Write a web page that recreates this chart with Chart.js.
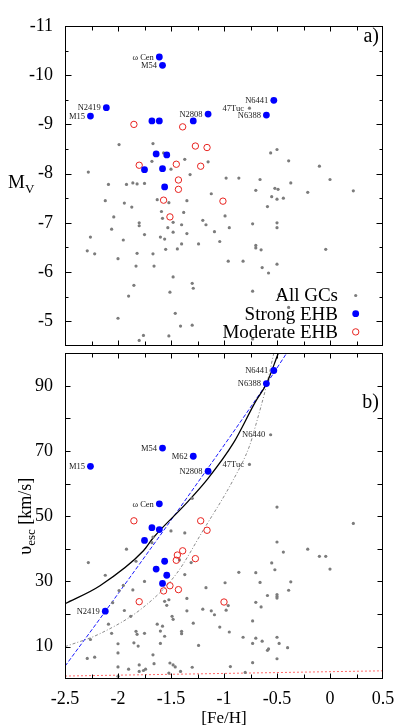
<!DOCTYPE html>
<html><head><meta charset="utf-8">
<script src="https://cdn.jsdelivr.net/npm/chart.js@4.4.1/dist/chart.umd.min.js"></script>
<style>
html,body{margin:0;padding:0;background:#fff;}
#wrap{position:relative;width:415px;height:727px;overflow:hidden;background:#fff;}
#c1{position:absolute;left:0;top:0;}
#c2{position:absolute;left:0;top:349px;}
</style></head><body>
<div id="wrap"><canvas id="c1" width="415" height="350"></canvas><canvas id="c2" width="415" height="378"></canvas></div>
<script>
// ---------- axis ticks ----------
const fehTicks  = [-2.5,-2.25,-2,-1.75,-1.5,-1.25,-1,-0.75,-0.5,-0.25,0,0.25,0.5];
const fehLabels = [-2.5,-2,-1.5,-1,-0.5,0,0.5];
const mvTicks   = [-11,-10.5,-10,-9.5,-9,-8.5,-8,-7.5,-7,-6.5,-6,-5.5,-5,-4.5];
const mvLabels  = [-11,-10,-9,-8,-7,-6,-5];
const vescTicks = [0,10,20,30,40,50,60,70,80,90,100];
const vescLabels= [10,30,50,70,90];

// ---------- panel a) : M_V vs [Fe/H] ----------
const strongFehA  = [-1.61,-1.58,-2.11,-2.26,-1.68,-1.61,-1.29,-1.15,-0.53,-0.60,-1.64,-1.54,-1.75,-1.58,-1.56];
const strongMv    = [-10.37,-10.20,-9.34,-9.17,-9.07,-9.07,-9.07,-9.21,-9.49,-9.19,-8.40,-8.38,-8.08,-8.10,-7.73];
const strongNamesA= ['ω Cen','M54','N2419','M15','','','','N2808','N6441','N6388','','','','',''];

const modFehA = [-1.85,-1.39,-1.27,-1.16,-1.80,-1.45,-1.22,-1.43,-1.43,-1.57,-1.01,-1.51];
const modMv   = [-9.00,-8.95,-8.56,-8.53,-8.17,-8.19,-8.15,-7.87,-7.68,-7.46,-7.44,-7.12];

const allFehA = [-0.76,
 -1.99,-1.67,-1.57,-1.68,-1.37,-1.15,-2.28,-1.50,-1.32,-2.09,-1.92,-1.86,-1.82,-1.75,-1.12,-2.12,-1.94,-1.87,-1.63,-1.52,
 -1.35,-2.04,-1.59,-1.58,-1.38,-1.80,-1.80,-2.06,-1.48,-1.53,-1.40,-1.20,-1.17,-1.09,-1.75,-1.48,-1.35,-2.26,-1.95,-1.60,
 -1.56,-1.40,-1.24,-1.04,-2.29,-2.22,-1.82,-1.67,-1.55,-1.44,-2.00,-1.83,-1.66,-1.48,-1.85,-1.30,-1.29,-1.51,-1.90,-2.00,
 -1.46,-1.41,-1.30,-1.76,-1.80,-1.52,
 -0.56,-0.50,-0.39,-0.10,-0.98,-0.86,-0.66,0.00,-0.70,-0.52,-0.49,-0.37,-0.21,0.22,-0.55,-0.50,-0.44,-0.59,-0.99,-0.95,
 -0.73,-0.50,-0.50,-0.70,-0.70,-0.65,-0.04,-0.96,-0.82,-0.64,-0.58,-0.50,-0.73,-0.48,-0.39,-0.73];
const allMv = [-9.33,
 -8.59,-8.61,-8.42,-8.25,-8.29,-8.24,-8.03,-8.09,-7.98,-7.78,-7.78,-7.81,-7.79,-7.80,-7.59,-7.45,-7.40,-7.32,-7.47,-7.41,
 -7.45,-7.12,-7.23,-7.09,-7.21,-7.00,-6.94,-6.87,-7.01,-6.90,-6.96,-7.05,-6.96,-6.82,-6.76,-6.81,-6.78,-6.71,-6.65,-6.71,
 -6.67,-6.57,-6.57,-6.62,-6.43,-6.37,-6.38,-6.37,-6.46,-6.47,-6.27,-6.12,-6.12,-5.90,-5.73,-5.77,-5.67,-5.59,-5.51,-5.06,
 -5.16,-4.90,-4.92,-4.71,-4.61,-4.70,
 -8.42,-8.49,-8.26,-8.15,-7.91,-7.91,-7.88,-7.88,-7.66,-7.70,-7.68,-7.81,-7.62,-7.65,-7.53,-7.48,-7.50,-7.33,-7.14,-6.90,
 -6.98,-7.00,-6.90,-6.54,-6.49,-6.45,-6.46,-6.22,-6.22,-6.09,-5.98,-6.16,-5.61,-5.54,-5.28,-4.64];
const allNamesA = ['47Tuc'];

// ---------- panel b) : v_esc vs [Fe/H] ----------
const strongFehB  = [-0.53,-0.60,-1.58,-1.29,-2.26,-1.15,-1.61,-1.68,-1.61,-1.75,-1.56,-1.64,-1.54,-1.58,-2.12];
const strongVesc  = [94.7,90.7,70.9,68.4,65.3,63.8,53.8,46.5,45.9,42.6,36.2,33.8,31.9,29.4,20.9];
const strongNamesB= ['N6441','N6388','M54','M62','M15','N2808','ω Cen','','','','','','','','N2419'];

const modFehB  = [-1.85,-1.22,-1.16,-1.39,-1.44,-1.45,-1.27,-1.57,-1.51,-1.43,-1.80,-1.00];
const modVesc  = [48.6,48.6,45.7,39.4,38.1,36.5,37.0,27.1,28.7,27.5,23.8,23.7];

const allFehB = [-0.56,-0.76,
 -2.28,-1.92,-2.12,-1.83,-1.67,-1.68,-1.50,-1.37,-1.30,-1.42,-1.31,-1.37,-1.17,-1.75,-1.99,-1.95,-1.86,-1.52,-1.56,-1.54,
 -1.35,-2.05,-1.94,-1.35,-1.20,-1.12,-1.09,-2.09,-1.88,-2.06,-1.63,-1.58,-1.49,-1.48,-1.40,-1.40,-1.29,-1.04,-2.26,-2.00,
 -1.83,-1.82,-1.75,-1.85,-1.81,-1.60,-1.56,-1.60,-1.24,-2.00,-2.29,-2.22,-1.67,-1.66,-1.51,-1.48,-1.46,-2.00,-1.90,-1.80,
 -1.80,-1.76,-1.74,-1.41,-1.30,-1.52,-2.00,
 -0.50,0.22,-0.50,-0.44,-0.21,-0.10,-0.04,0.00,-0.55,-0.52,-0.86,-0.70,-0.99,-0.66,-0.37,-0.39,-0.59,-0.50,-0.50,-0.50,
 -0.70,-0.65,-0.96,-0.98,-0.73,-0.95,-0.82,-0.70,-0.73,-0.64,-0.59,-0.58,-0.50,-0.48,-0.40,-0.50,-0.73,-0.94,-0.80];
const allVesc = [75.0,65.9,
 35.8,39.9,31.9,36.2,43.6,41.9,45.5,44.9,55.5,36.6,35.8,32.1,28.1,30.0,27.2,28.8,27.4,24.4,23.9,22.7,
 24.8,23.5,21.1,21.0,21.5,21.0,19.8,16.9,19.3,14.1,16.9,16.3,19.3,18.4,14.7,14.0,17.2,16.0,12.2,10.9,
 14.7,13.8,14.1,11.2,10.2,14.8,13.2,11.0,10.4,8.1,6.4,6.8,7.5,4.8,5.0,4.4,3.8,3.8,3.1,4.4,
 2.4,2.7,3.1,2.4,3.7,1.9,0.9,
 52.8,47.8,42.1,39.0,39.9,37.7,37.7,33.8,35.7,33.6,32.8,32.7,29.6,29.7,29.9,27.3,25.7,26.0,25.4,24.9,
 23.6,22.2,22.6,21.2,17.9,14.5,12.9,12.6,11.0,11.7,8.9,9.3,12.9,11.0,9.7,6.3,5.1,3.9,2.1];
const allNamesB = ['N6440','47Tuc'];

// curves read off panel b)
const blackCurveFeh  = [-2.5,-2.17,-1.76,-1.667,-1.352,-1.148,-0.912,-0.70,-0.597,-0.488];
const blackCurveVesc = [23.2,28.7,39.4,43.4,54.1,61.7,72.4,85.3,90.8,100];
const blueLineFeh    = [-2.5,-2.116,-1.305,-0.597,-0.409];
const blueLineVesc   = [4.0,21.0,57.7,90.7,100];
const grayCurveFeh   = [-2.5,-2.17,-1.76,-1.45,-1.2,-0.912,-0.76,-0.70,-0.60,-0.53];
const grayCurveVesc  = [10.0,14.0,22.1,32.3,45.5,61.2,71.5,78.0,90.0,100];
const redLineFeh     = [-2.5,0.5];
const redLineVesc    = [1.0,2.6];

// ---------- helpers / plugins ----------
const SERIF = '"Liberation Serif","Times New Roman",Times,serif';
const BLUE = '#0000ff', RED = '#e8231f', GRAY = '#7c7c7c';
function pts(xs, ys){ return xs.map((x,i)=>({x:x, y:ys[i]})); }

const frameTicks = {
  id:'frameTicks',
  afterDraw(chart, args, o){
    const {ctx, chartArea:a} = chart;
    const xs = chart.scales.x, ys = chart.scales.y;
    const L = Math.round(a.left)+0.5, R = Math.round(a.right)-0.5, T = Math.round(a.top)+0.5, B = Math.round(a.bottom)-0.5;
    ctx.save();
    ctx.strokeStyle = '#000'; ctx.lineWidth = 1;
    ctx.beginPath();
    o.xTicks.forEach(v => {
      if (v <= xs.min || v >= xs.max) return;
      const p = Math.round(xs.getPixelForValue(v)) + 0.5;
      const len = o.xMajor.includes(v) ? o.xMaj : o.xMin;
      ctx.moveTo(p, B); ctx.lineTo(p, B - len);
      ctx.moveTo(p, T); ctx.lineTo(p, T + len);
    });
    o.yTicks.forEach(v => {
      if (v <= ys.min || v >= ys.max) return;
      const p = Math.round(ys.getPixelForValue(v)) + 0.5;
      const len = o.yMajor.includes(v) ? o.yMaj : o.yMin;
      ctx.moveTo(L, p); ctx.lineTo(L + len, p);
      ctx.moveTo(R, p); ctx.lineTo(R - len, p);
    });
    ctx.stroke();
    ctx.strokeRect(L, T, R-L, B-T);
    ctx.restore();
  }
};

const pointNames = {
  id:'pointNames',
  afterDatasetsDraw(chart){
    const ctx = chart.ctx;
    ctx.save();
    ctx.font = '8.5px ' + SERIF; ctx.fillStyle = '#1a1a1a';
    ctx.textAlign = 'right'; ctx.textBaseline = 'middle';
    chart.data.datasets.forEach((ds, di) => {
      if (!ds.names) return;
      const meta = chart.getDatasetMeta(di);
      ds.names.forEach((n, i) => {
        if (!n) return;
        const el = meta.data[i];
        ctx.fillText(n, el.x - 5.5, el.y + 0.5);
      });
    });
    ctx.restore();
  }
};

const customLegend = {
  id:'customLegend',
  afterDraw(chart, args, o){
    if (!o.show) return;
    const {ctx, chartArea:a} = chart;
    ctx.save();
    ctx.font = '19px ' + SERIF; ctx.fillStyle = '#000';
    ctx.textAlign = 'right'; ctx.textBaseline = 'middle';
    o.order.forEach((di, row) => {
      const ds = chart.data.datasets[di];
      const y = a.bottom - 50.3 + row * 18.2;
      ctx.fillStyle = '#000';
      ctx.fillText(ds.label, a.right - 45, y + 1);
      const mx = a.right - 27.3;
      ctx.beginPath(); ctx.arc(mx, y, ds.pointRadius, 0, Math.PI*2);
      if (ds.backgroundColor !== 'rgba(0,0,0,0)') { ctx.fillStyle = ds.backgroundColor; ctx.fill(); }
      if (ds.borderWidth > 0) { ctx.strokeStyle = ds.borderColor; ctx.lineWidth = ds.borderWidth; ctx.stroke(); }
    });
    ctx.restore();
  }
};

const titles = {
  id:'titles',
  afterDraw(chart, args, o){
    const ctx = chart.ctx, a = chart.chartArea;
    ctx.save();
    ctx.fillStyle = '#000'; ctx.textBaseline = 'alphabetic';
    // panel letter
    ctx.font = '20px ' + SERIF; ctx.textAlign = 'right';
    ctx.fillText(o.panel, a.right - 4, a.top + o.panelDy);
    ctx.textAlign = 'left';
    if (o.kind === 'mv') {
      ctx.font = '19px ' + SERIF;
      ctx.fillText('M', 8, 188);
      const w = ctx.measureText('M').width;
      ctx.font = '13px ' + SERIF;
      ctx.fillText('V', 8 + w, 193);
    } else {
      const cy = (a.top + a.bottom) / 2;
      ctx.translate(30.5, cy);
      ctx.rotate(-Math.PI/2);
      ctx.font = '18px ' + SERIF; const w1 = ctx.measureText('υ').width;
      ctx.font = '13px ' + SERIF; const w2 = ctx.measureText('esc').width;
      ctx.font = '18px ' + SERIF; const w3 = ctx.measureText(' [km/s]').width;
      let x = -(w1 + w2 + w3) / 2;
      ctx.font = '18px ' + SERIF; ctx.fillText('υ', x, 0); x += w1;
      ctx.font = '13px ' + SERIF; ctx.fillText('esc', x, 4); x += w2;
      ctx.font = '18px ' + SERIF; ctx.fillText(' [km/s]', x, 0);
    }
    ctx.restore();
  }
};

function yAxis(min, max, ticksArr, labelsArr, reverse){
  return {
    type:'linear', min:min, max:max, reverse:reverse,
    afterBuildTicks: s => { s.ticks = ticksArr.map(v => ({value:v})); },
    afterFit: s => { s.width = 65; s.paddingTop = 0; s.paddingBottom = 0; },
    grid:{display:false, drawTicks:false}, border:{display:false},
    ticks:{autoSkip:false, padding:12, color:'#000', font:{family:SERIF, size:18},
           callback: v => labelsArr.includes(v) ? String(v) : ''}
  };
}

const common = {
  responsive:false, animation:false, devicePixelRatio:1,
  plugins:{legend:{display:false}, tooltip:{enabled:false}}
};

// ---------- top chart ----------
new Chart(document.getElementById('c1'), {
  type:'scatter',
  data:{datasets:[
    {label:'All GCs', data:pts(allFehA, allMv), names:allNamesA, pointRadius:1.6, pointHoverRadius:1.6,
     backgroundColor:GRAY, borderColor:GRAY, borderWidth:0, order:2},
    {label:'Strong EHB', data:pts(strongFehA, strongMv), names:strongNamesA, pointRadius:3.4, pointHoverRadius:3.4,
     backgroundColor:BLUE, borderColor:BLUE, borderWidth:0, order:0},
    {label:'Moderate EHB', data:pts(modFehA, modMv), pointRadius:3.2, pointHoverRadius:3.2,
     backgroundColor:'rgba(0,0,0,0)', borderColor:RED, borderWidth:1, order:1}
  ]},
  options:Object.assign({}, common, {
    layout:{padding:{left:0, right:32, top:26, bottom:2}},
    plugins:{legend:{display:false}, tooltip:{enabled:false},
      frameTicks:{xTicks:fehTicks, xMajor:fehLabels, xMaj:5, xMin:4, yTicks:mvTicks, yMajor:mvLabels, yMaj:6, yMin:3},
      customLegend:{show:true, order:[0,1,2]},
      titles:{panel:'a)', panelDy:16, kind:'mv'}},
    scales:{
      x:{type:'linear', display:false, min:-2.5, max:0.5},
      y:yAxis(-11, -4.5, mvTicks, mvLabels, true)
    }
  }),
  plugins:[frameTicks, pointNames, customLegend, titles]
});

// ---------- bottom chart ----------
function curve(xs, ys, color, dash, width){
  return {label:'', data:pts(xs, ys), showLine:true, pointRadius:0, pointHoverRadius:0,
          borderColor:color, backgroundColor:color, borderDash:dash, borderWidth:width,
          cubicInterpolationMode:'monotone', fill:false, order:3};
}
new Chart(document.getElementById('c2'), {
  type:'scatter',
  data:{datasets:[
    {label:'All GCs', data:pts(allFehB, allVesc), names:allNamesB, pointRadius:1.6, pointHoverRadius:1.6,
     backgroundColor:GRAY, borderColor:GRAY, borderWidth:0, order:2},
    {label:'Strong EHB', data:pts(strongFehB, strongVesc), names:strongNamesB, pointRadius:3.4, pointHoverRadius:3.4,
     backgroundColor:BLUE, borderColor:BLUE, borderWidth:0, order:0},
    {label:'Moderate EHB', data:pts(modFehB, modVesc), pointRadius:3.2, pointHoverRadius:3.2,
     backgroundColor:'rgba(0,0,0,0)', borderColor:RED, borderWidth:1, order:1},
    curve(blackCurveFeh, blackCurveVesc, '#000000', [], 1.3),
    curve(blueLineFeh, blueLineVesc, '#1a1aff', [4,2], 1),
    curve(grayCurveFeh, grayCurveVesc, '#8a8a8a', [3,2,1,2], 1),
    curve(redLineFeh, redLineVesc, '#ff6a6a', [2,2], 1)
  ]},
  options:Object.assign({}, common, {
    layout:{padding:{left:0, right:32, top:2, bottom:0}},
    plugins:{legend:{display:false}, tooltip:{enabled:false},
      frameTicks:{xTicks:fehTicks, xMajor:fehLabels, xMaj:5, xMin:4, yTicks:vescTicks, yMajor:vescLabels, yMaj:5, yMin:5},
      customLegend:{show:false},
      titles:{panel:'b)', panelDy:55, kind:'vesc'}},
    scales:{
      x:{type:'linear', position:'bottom', min:-2.5, max:0.5,
         afterBuildTicks: s => { s.ticks = fehTicks.map(v => ({value:v})); },
         afterFit: s => { s.height = 47.7; s.paddingLeft = 0; s.paddingRight = 0; },
         grid:{display:false, drawTicks:false}, border:{display:false},
         ticks:{autoSkip:false, maxRotation:0, minRotation:0, padding:9, color:'#000', font:{family:SERIF, size:18},
                callback: v => fehLabels.includes(v) ? String(v) : ''},
         title:{display:true, text:'[Fe/H]', color:'#000', font:{family:SERIF, size:17, lineHeight:1}, padding:{top:0, bottom:0}}},
      y:yAxis(0, 100, vescTicks, vescLabels, false)
    }
  }),
  plugins:[frameTicks, pointNames, customLegend, titles]
});
</script>
</body></html>
